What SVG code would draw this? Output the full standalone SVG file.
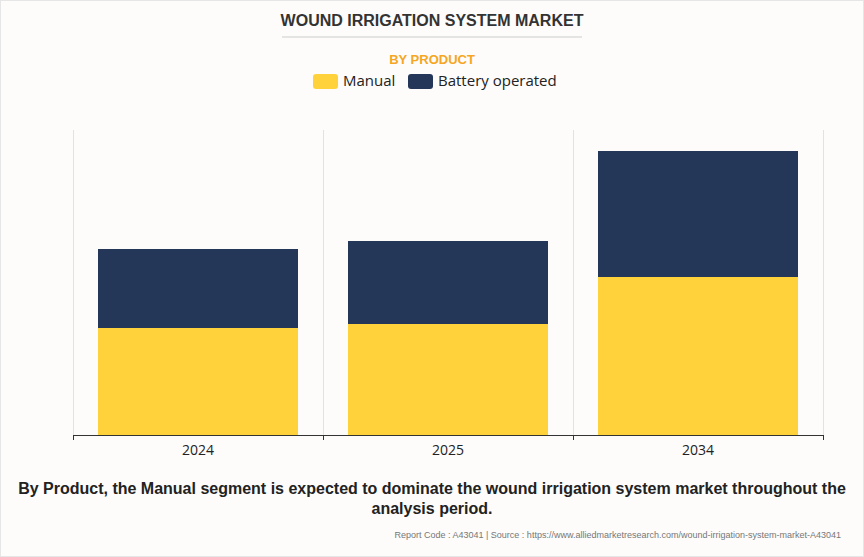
<svg xmlns="http://www.w3.org/2000/svg" width="864" height="557" viewBox="0 0 864 557">
<style>
.m{fill:#FFD23C}.b{fill:#253758}
.ax{font-family:"Open Sans","DejaVu Sans",sans-serif;font-size:14px;fill:#222;text-anchor:middle}
.g{stroke:#e2e2e2;stroke-width:1}
</style>
<rect width="864" height="557" fill="#fdfcfb"/>
<rect x="0.5" y="0.5" width="863" height="556" fill="none" stroke="#e6e6e6"/>
<text x="432" y="26" text-anchor="middle" font-family="Liberation Sans,Arial,sans-serif" font-weight="bold" font-size="16" fill="#333">WOUND IRRIGATION SYSTEM MARKET</text>
<line x1="282" y1="37" x2="582" y2="37" stroke="#ccc"/>
<text x="432" y="64" text-anchor="middle" font-family="Liberation Sans,Arial,sans-serif" font-weight="bold" font-size="13" fill="#F5A623">BY PRODUCT</text>
<g id="legend">
<rect x="313" y="74" width="25" height="15" rx="3" class="m"/>
<text x="343" y="86" font-family="Open Sans,DejaVu Sans,sans-serif" font-size="15" fill="#222">Manual</text>
<rect x="408" y="74" width="25" height="15" rx="3" class="b"/>
<text x="438" y="86" font-family="Open Sans,DejaVu Sans,sans-serif" font-size="15" fill="#222">Battery operated</text>
</g>
<g id="grid">
<line class="g" x1="73.5" y1="130" x2="73.5" y2="435"/>
<line class="g" x1="323.5" y1="130" x2="323.5" y2="435"/>
<line class="g" x1="573.5" y1="130" x2="573.5" y2="435"/>
<line class="g" x1="823.5" y1="130" x2="823.5" y2="435"/>
</g>
<g id="bar2024"><rect x="98" y="249" width="200" height="79" class="b"/><rect x="98" y="328" width="200" height="107" class="m"/></g>
<g id="bar2025"><rect x="348" y="241" width="200" height="83" class="b"/><rect x="348" y="324" width="200" height="111" class="m"/></g>
<g id="bar2034"><rect x="598" y="151" width="200" height="126" class="b"/><rect x="598" y="277" width="200" height="158" class="m"/></g>
<g id="axis" stroke="#333">
<line x1="73" y1="435.5" x2="824" y2="435.5"/>
<line x1="73.5" y1="435" x2="73.5" y2="440"/><line x1="323.5" y1="435" x2="323.5" y2="440"/><line x1="573.5" y1="435" x2="573.5" y2="440"/><line x1="823.5" y1="435" x2="823.5" y2="440"/>
</g>
<text class="ax" x="198" y="455">2024</text>
<text class="ax" x="448" y="455">2025</text>
<text class="ax" x="698" y="455">2034</text>
<text x="432" y="494" text-anchor="middle" font-family="Liberation Sans,Arial,sans-serif" font-weight="bold" font-size="16" fill="#222">By Product, the Manual segment is expected to dominate the wound irrigation system market throughout the</text>
<text x="432" y="514" text-anchor="middle" font-family="Liberation Sans,Arial,sans-serif" font-weight="bold" font-size="16" fill="#222">analysis period.</text>
<text x="841" y="538" text-anchor="end" font-family="Liberation Sans,Arial,sans-serif" font-size="9" fill="#777">Report Code : A43041  |  Source : https://www.alliedmarketresearch.com/wound-irrigation-system-market-A43041</text>
</svg>
